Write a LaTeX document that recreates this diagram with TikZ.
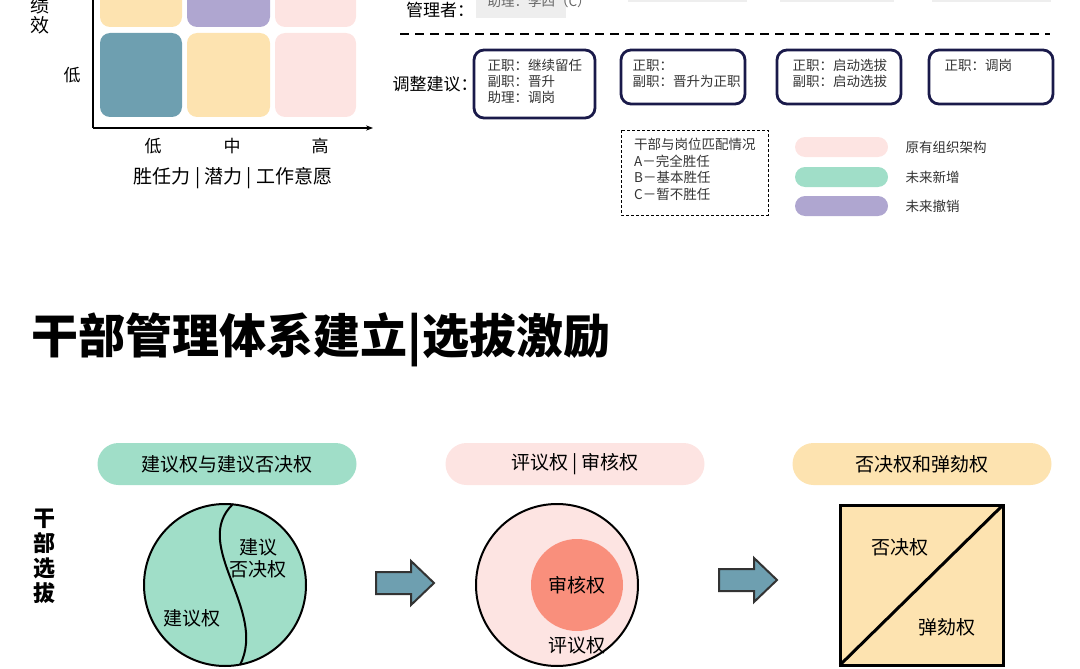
\documentclass[tikz,border=0pt]{standalone}
\usepackage{fontspec}
\setmainfont{Noto Sans CJK SC}
\usetikzlibrary{arrows.meta}
\definecolor{teal}{HTML}{6E9FB0}
\definecolor{yel}{HTML}{FDE3B0}
\definecolor{pur}{HTML}{AFA6D0}
\definecolor{pnk}{HTML}{FDE4E2}
\definecolor{grn}{HTML}{A0DEC8}
\definecolor{navy}{HTML}{1A1A4A}
\definecolor{salmon}{HTML}{F98F7C}
\definecolor{gry}{HTML}{EEEEEE}
\begin{document}
\begin{tikzpicture}[x=1pt,y=-1pt,
 cell/.style={rounded corners=10pt,draw=none},
 t/.style={font=\fontsize{17}{19}\selectfont},
 s/.style={font=\fontsize{13.5}{16}\selectfont,align=left,anchor=north west,text=black!80},
 adv/.style={draw=navy,line width=2.8pt,rounded corners=10pt},
 pill/.style={rounded corners=10pt,draw=none},
 bigpill/.style={rounded corners=21pt,draw=none,minimum width=259pt,minimum height=42pt,font=\fontsize{19}{21}\selectfont},
 blk/.style={draw=black!80,line width=2pt,fill=teal,line join=miter}]
\useasboundingbox (0,0) rectangle (1080,669);
\begin{scope}
\clip (0,0) rectangle (1080,669);
% matrix
\fill[cell,yel] (100,-60) rectangle (182,27);
\fill[cell,pur] (187,-60) rectangle (270,27);
\fill[cell,pnk] (275,-60) rectangle (356,27);
\fill[cell,teal] (100,33) rectangle (182,117);
\fill[cell,yel] (187,33) rectangle (270,117);
\fill[cell,pnk] (275,33) rectangle (356,117);
\coordinate (o) at (93,128);
\coordinate (yt) at (93,-10);
\coordinate (xe) at (373,128);
\draw[line width=1.8pt] (yt) -- (o);
\draw[line width=1.8pt,-{Stealth[length=7pt]}] (o) -- (xe);
\node[t,align=center,font=\fontsize{19}{20}\selectfont] (yl) at (40,15) {绩\\效};
\node[t] (lo) at (72,75) {低};
\node[t] (x1) at (153,146) {低};
\node[t] (x2) at (232,146) {中};
\node[t] (x3) at (320,146) {高};
\node[font=\fontsize{19}{21}\selectfont] (xl) at (233,178) {胜任力 | 潜力 | 工作意愿};
% top partial
\node[t] (mgr) at (440,10) {管理者：};
\fill[gry] (476,-30) rectangle (566,18);
\node[s,anchor=west,text=black!60] (li) at (484,1) {助理：李四（C）};
\fill[gry] (628,-30) rectangle (747,2);
\fill[gry] (780,-30) rectangle (894,2);
\fill[gry] (932,-30) rectangle (1051,2);
\draw[line width=2.5pt,dash pattern=on 9pt off 6pt] (400,34) -- (1050,34);
% advice
\node[t] (adj) at (435,84) {调整建议：};
\draw[adv] (474,50) rectangle (595,118);
\node[s] (a1) at (484,56) {正职：继续留任\\副职：晋升\\助理：调岗};
\draw[adv] (621,50) rectangle (745,104);
\node[s] (a2) at (629,56) {正职：\\副职：晋升为正职};
\draw[adv] (777,50) rectangle (901,104);
\node[s] (a3) at (789,56) {正职：启动选拔\\副职：启动选拔};
\draw[adv] (929,50) rectangle (1053,104);
\node[s] (a4) at (941,56) {正职：调岗};
% legend
\draw[line width=1pt,dash pattern=on 3pt off 2pt] (621,130) rectangle (768,215);
\node[s,inner sep=0pt,font=\fontsize{13.5}{16.5}\selectfont] (lg) at (634,138) {干部与岗位匹配情况\\A－完全胜任\\B－基本胜任\\C－暂不胜任};
\fill[pill,pnk] (795,137) rectangle (888,157);
\fill[pill,grn] (795,167) rectangle (888,187);
\fill[pill,pur] (795,196) rectangle (888,216);
\node[s,anchor=west] (l1) at (902,147) {原有组织架构};
\node[s,anchor=west] (l2) at (902,177) {未来新增};
\node[s,anchor=west] (l3) at (902,206) {未来撤销};
% title
\node[anchor=west,font=\fontsize{47}{49}\selectfont\bfseries] (title) at (28,340) {干部管理体系建立|选拔激励};
% pills
\node[bigpill,fill=grn] (p1) at (227,464) {建议权与建议否决权};
\node[bigpill,fill=pnk] (p2) at (575,464) {评议权 | 审核权};
\node[bigpill,fill=yel] (p3) at (922,464) {否决权和弹劾权};
\node[align=center,font=\fontsize{22}{25}\selectfont\bfseries] (gb) at (45,556) {干\\部\\选\\拔};
% circle 1
\node[circle,draw=black,line width=2pt,fill=grn,minimum size=162pt] (c1) at (225,585) {};
\draw[line width=2pt] (c1.north) ++(8,1) .. controls (190,545) and (268,610) .. (240,665);
\node[font=\fontsize{19}{22}\selectfont,align=center] (c1a) at (258,558) {建议\\否决权};
\node[font=\fontsize{19}{21}\selectfont] (c1b) at (192,618) {建议权};
\draw[blk] (376,572) -- (411,572) -- (411,561) -- (434,583) -- (411,605) -- (411,594) -- (376,594) -- cycle;
% circle 2
\node[circle,draw=black,line width=2pt,fill=pnk,minimum size=162pt] (c2) at (557,585) {};
\node[circle,fill=salmon,minimum size=92pt] (c2i) at (577,585) {};
\node[font=\fontsize{19}{21}\selectfont] at (c2i) {审核权};
\node[font=\fontsize{19}{21}\selectfont] (c2b) at (577,645) {评议权};
\draw[blk] (719,569) -- (754,569) -- (754,558) -- (777,580) -- (754,602) -- (754,591) -- (719,591) -- cycle;
% square
\draw[line width=3pt,fill=yel] (840,505) rectangle (1003,665);
\draw[line width=3pt] (840,665) -- (1003,505);
\node[font=\fontsize{19}{21}\selectfont] (q1) at (900,547) {否决权};
\node[font=\fontsize{19}{21}\selectfont] (q2) at (947,627) {弹劾权};
\end{scope}
\end{tikzpicture}
\end{document}
